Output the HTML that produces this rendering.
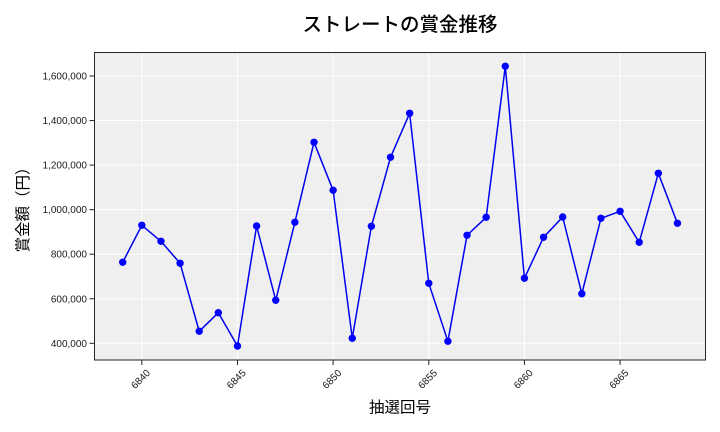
<!DOCTYPE html>
<html><head><meta charset="utf-8"><style>
html,body{margin:0;padding:0;background:#fff;}
svg{display:block;}
</style></head><body>
<svg width="720" height="432" viewBox="0 0 720 432" xmlns="http://www.w3.org/2000/svg">
<rect x="0" y="0" width="720" height="432" fill="#ffffff"/>
<rect x="94.5" y="52.5" width="611" height="307.5" fill="#efefef"/>
<g stroke="#ffffff" stroke-width="1">
<line x1="94.5" x2="705.5" y1="343.3" y2="343.3"/>
<line x1="94.5" x2="705.5" y1="298.75" y2="298.75"/>
<line x1="94.5" x2="705.5" y1="254.2" y2="254.2"/>
<line x1="94.5" x2="705.5" y1="209.65" y2="209.65"/>
<line x1="94.5" x2="705.5" y1="165.1" y2="165.1"/>
<line x1="94.5" x2="705.5" y1="120.55" y2="120.55"/>
<line x1="94.5" x2="705.5" y1="76" y2="76"/>
<line y1="52.5" y2="360" x1="141.83" x2="141.83"/>
<line y1="52.5" y2="360" x1="237.48" x2="237.48"/>
<line y1="52.5" y2="360" x1="333.13" x2="333.13"/>
<line y1="52.5" y2="360" x1="428.78" x2="428.78"/>
<line y1="52.5" y2="360" x1="524.43" x2="524.43"/>
<line y1="52.5" y2="360" x1="620.08" x2="620.08"/>
</g>
<polyline fill="none" stroke="#0000ee" stroke-width="1.5" stroke-linejoin="round" points="122.7,262.3 141.83,225.3 160.96,241.3 180.09,263.3 199.22,331.3 218.35,312.7 237.48,346 256.61,226 275.74,300.3 294.87,222.3 314,142.3 333.13,190.3 352.26,338.3 371.39,226.3 390.52,157.3 409.65,113.3 428.78,283.3 447.91,341.3 467.04,235.3 486.17,217.3 505.3,66.3 524.43,278.3 543.56,237.3 562.69,217 581.82,293.7 600.95,218.3 620.08,211.3 639.21,242.3 658.34,173.3 677.47,223.3"/>
<g fill="#0000ff">
<circle cx="122.7" cy="262.3" r="3.7"/><circle cx="141.83" cy="225.3" r="3.7"/><circle cx="160.96" cy="241.3" r="3.7"/><circle cx="180.09" cy="263.3" r="3.7"/><circle cx="199.22" cy="331.3" r="3.7"/><circle cx="218.35" cy="312.7" r="3.7"/><circle cx="237.48" cy="346" r="3.7"/><circle cx="256.61" cy="226" r="3.7"/><circle cx="275.74" cy="300.3" r="3.7"/><circle cx="294.87" cy="222.3" r="3.7"/><circle cx="314" cy="142.3" r="3.7"/><circle cx="333.13" cy="190.3" r="3.7"/><circle cx="352.26" cy="338.3" r="3.7"/><circle cx="371.39" cy="226.3" r="3.7"/><circle cx="390.52" cy="157.3" r="3.7"/><circle cx="409.65" cy="113.3" r="3.7"/><circle cx="428.78" cy="283.3" r="3.7"/><circle cx="447.91" cy="341.3" r="3.7"/><circle cx="467.04" cy="235.3" r="3.7"/><circle cx="486.17" cy="217.3" r="3.7"/><circle cx="505.3" cy="66.3" r="3.7"/><circle cx="524.43" cy="278.3" r="3.7"/><circle cx="543.56" cy="237.3" r="3.7"/><circle cx="562.69" cy="217" r="3.7"/><circle cx="581.82" cy="293.7" r="3.7"/><circle cx="600.95" cy="218.3" r="3.7"/><circle cx="620.08" cy="211.3" r="3.7"/><circle cx="639.21" cy="242.3" r="3.7"/><circle cx="658.34" cy="173.3" r="3.7"/><circle cx="677.47" cy="223.3" r="3.7"/>
</g>
<rect x="94.5" y="52.5" width="611" height="307.5" fill="none" stroke="#262626" stroke-width="1"/>
<g stroke="#262626" stroke-width="1">
<line x1="89.5" x2="94.5" y1="343.3" y2="343.3"/>
<line x1="89.5" x2="94.5" y1="298.75" y2="298.75"/>
<line x1="89.5" x2="94.5" y1="254.2" y2="254.2"/>
<line x1="89.5" x2="94.5" y1="209.65" y2="209.65"/>
<line x1="89.5" x2="94.5" y1="165.1" y2="165.1"/>
<line x1="89.5" x2="94.5" y1="120.55" y2="120.55"/>
<line x1="89.5" x2="94.5" y1="76" y2="76"/>
<line y1="360" y2="365" x1="141.83" x2="141.83"/>
<line y1="360" y2="365" x1="237.48" x2="237.48"/>
<line y1="360" y2="365" x1="333.13" x2="333.13"/>
<line y1="360" y2="365" x1="428.78" x2="428.78"/>
<line y1="360" y2="365" x1="524.43" x2="524.43"/>
<line y1="360" y2="365" x1="620.08" x2="620.08"/>
</g>
<g font-family="Liberation Sans, sans-serif" font-size="10" fill="#1a1a1a" text-anchor="end">
<text x="87" y="346.8">400,000</text>
<text x="87" y="302.3">600,000</text>
<text x="87" y="257.7">800,000</text>
<text x="87" y="213.2">1,000,000</text>
<text x="87" y="168.6">1,200,000</text>
<text x="87" y="124.1">1,400,000</text>
<text x="87" y="79.5">1,600,000</text>
</g>
<g font-family="Liberation Sans, sans-serif" font-size="10" fill="#1a1a1a" text-anchor="middle">
<text x="140.5" y="382.5" transform="rotate(-45 140.5 379)">6840</text>
<text x="236.2" y="382.5" transform="rotate(-45 236.2 379)">6845</text>
<text x="331.8" y="382.5" transform="rotate(-45 331.8 379)">6850</text>
<text x="427.5" y="382.5" transform="rotate(-45 427.5 379)">6855</text>
<text x="523.1" y="382.5" transform="rotate(-45 523.1 379)">6860</text>
<text x="618.8" y="382.5" transform="rotate(-45 618.8 379)">6865</text>
</g>
<text x="400" y="31" text-anchor="middle" font-family="Liberation Sans, Noto Sans CJK JP, sans-serif" font-size="19.5" font-weight="500" fill="#000">ストレートの賞金推移</text>
<text x="400" y="412.5" text-anchor="middle" font-family="Liberation Sans, Noto Sans CJK JP, sans-serif" font-size="15.5" fill="#000">抽選回号</text>
<text x="0" y="0" transform="translate(28 206) rotate(-90)" text-anchor="middle" font-family="Liberation Sans, Noto Sans CJK JP, sans-serif" font-size="15.5" fill="#000">賞金額（円）</text>
</svg>
</body></html>
